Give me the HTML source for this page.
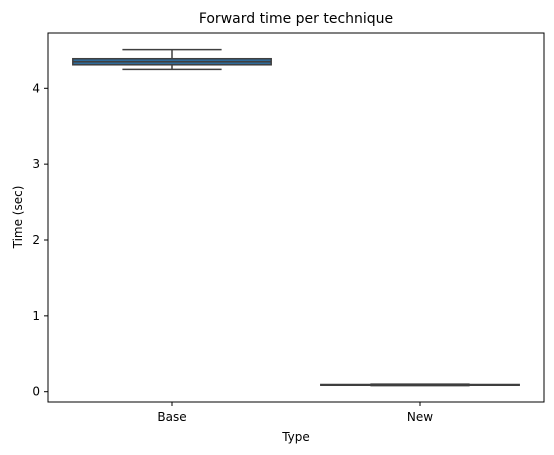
<!DOCTYPE html>
<html><head><meta charset="utf-8"><style>body{margin:0;background:#fff}svg{display:block;font-family:"DejaVu Sans","Liberation Sans",sans-serif}</style></head>
<body>
<svg id="chart" width="554" height="455">
<text x="296" y="23" text-anchor="middle" font-size="14">Forward time per technique</text>
<g id="plot"></g>
<rect x="48" y="33" width="496" height="369" fill="none" stroke="#000" stroke-width="1"/>
<text x="296" y="441" text-anchor="middle" font-size="12">Type</text>
<text transform="translate(22,217) rotate(-90)" text-anchor="middle" font-size="12">Time (sec)</text>
</svg>
<script>
const categories=["Base","New"];
const q1=[4.31,0.085];
const median=[4.35,0.09];
const q3=[4.39,0.095];
const whiskLow=[4.25,0.08];
const whiskHigh=[4.51,0.10];
const yTicks=[0,1,2,3,4];
const ns="http://www.w3.org/2000/svg";
const svg=document.getElementById('chart');
const g=document.getElementById('plot');
function y(v){return 391.7-v*75.85;}
const left=48,right=544,band=(right-left)/categories.length;
function xc(i){return left+band*(i+0.5);}
function mk(t,a,p){const e=document.createElementNS(ns,t);for(const k in a)e.setAttribute(k,a[k]);(p||g).appendChild(e);return e;}
yTicks.forEach(t=>{
 const l=mk('line',{x1:left-4,x2:left,y1:y(t),y2:y(t),stroke:'#000'},svg);
 
 
 const tx=mk('text',{x:left-8,y:y(t)+4,'text-anchor':'end','font-size':12},svg);tx.textContent=t;
 
 
});
categories.forEach((c,i)=>{
 const cx=xc(i),w=band*0.8,cw=w/2;
 const grp=mk('g',{});
 
 
 mk('line',{x1:cx,x2:cx,y1:y(whiskHigh[i]),y2:y(q3[i]),stroke:'#3f3f3f','stroke-width':1.5},grp);
 mk('line',{x1:cx,x2:cx,y1:y(q1[i]),y2:y(whiskLow[i]),stroke:'#3f3f3f','stroke-width':1.5},grp);
 mk('line',{x1:cx-cw/2,x2:cx+cw/2,y1:y(whiskHigh[i]),y2:y(whiskHigh[i]),stroke:'#3f3f3f','stroke-width':1.5},grp);
 mk('line',{x1:cx-cw/2,x2:cx+cw/2,y1:y(whiskLow[i]),y2:y(whiskLow[i]),stroke:'#3f3f3f','stroke-width':1.5},grp);
 mk('rect',{x:cx-w/2,y:y(q3[i]),width:w,height:Math.max(0.5,y(q1[i])-y(q3[i])),fill:'#2f6b9a',stroke:'#3f3f3f','stroke-width':1.5},grp);
 mk('line',{x1:cx-w/2,x2:cx+w/2,y1:y(median[i]),y2:y(median[i]),stroke:'#3f3f3f','stroke-width':1.5},grp);
 const l=mk('line',{x1:cx,x2:cx,y1:402,y2:406,stroke:'#000'},svg);
 
 
 const tx=mk('text',{x:cx,y:421,'text-anchor':'middle','font-size':12},svg);tx.textContent=c;
 
 
});
</script>
</body></html>
